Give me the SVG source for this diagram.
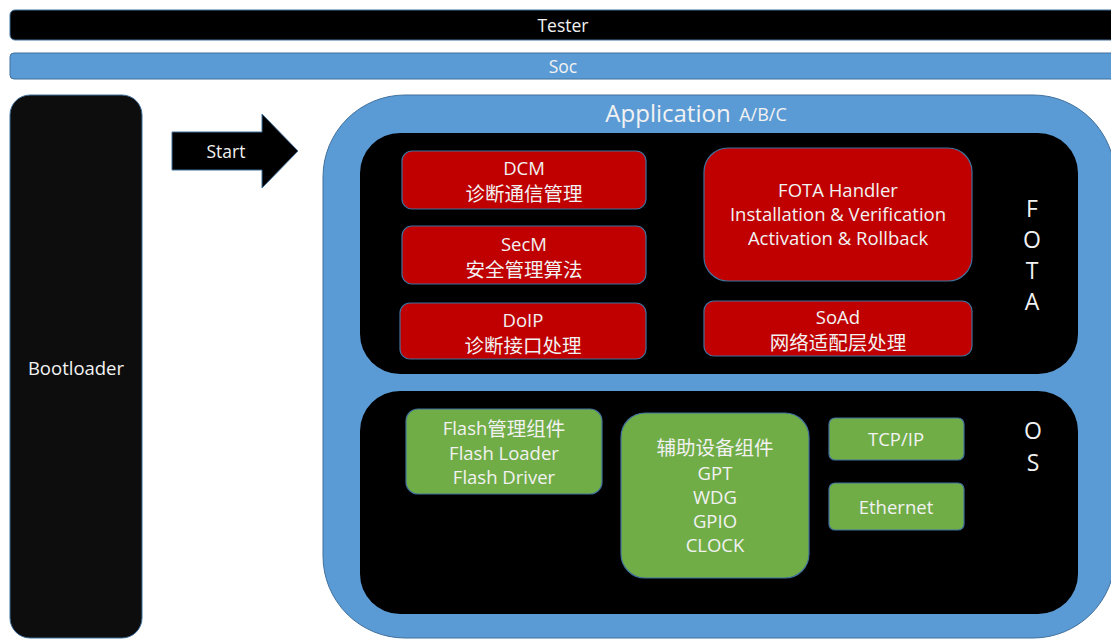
<svg xmlns="http://www.w3.org/2000/svg" width="1111" height="639" viewBox="0 0 1111 639">
<style>
text{font-family:"Open Sans","Noto Sans","Noto Sans CJK SC",sans-serif;fill:#f2f2f2;text-anchor:middle;dominant-baseline:central}
.t18{font-size:18.5px}
.t17{font-size:17.5px}
.cjk{font-size:19.5px;font-family:"Noto Sans CJK SC",sans-serif}
.red{fill:#c00000;stroke:#41719c;stroke-width:1.2}
.grn{fill:#70ad47;stroke:#41719c;stroke-width:1.2}
.blk{fill:#000;stroke:#41719c;stroke-width:1}
.blue{fill:#5b9bd5;stroke:#41719c;stroke-width:1}
</style>
<rect width="1111" height="639" fill="#fff"/>
<g id="tester">
<rect class="blk" x="10" y="10" width="1108" height="30" rx="5"/>
<text class="t17" x="563" y="25">Tester</text>
</g>
<g id="soc">
<rect class="blue" x="10" y="53" width="1108" height="26" rx="4"/>
<text class="t17" x="563" y="66">Soc</text>
</g>
<g id="bootloader">
<rect x="10" y="95" width="132" height="543" rx="20" fill="#0d0d0d" stroke="#41719c" stroke-width="1"/>
<text class="t18" x="76" y="367">Bootloader</text>
</g>
<g id="start">
<polygon points="172,132 262,132 262,114 298,151 262,188 262,170 172,170" fill="#000" stroke="#41719c" stroke-width="1"/>
<text class="t17" x="226" y="151">Start</text>
</g>
<g id="application">
<rect class="blue" x="323" y="95" width="792" height="543" rx="82"/>
<text x="668" y="112" style="font-size:24px">Application</text>
<text x="763" y="114" style="font-size:18px">A/B/C</text>
</g>
<g id="fota">
<rect x="360" y="133" width="718" height="241" rx="40" fill="#000"/>
<text x="1032" y="208" style="font-size:23px">F</text>
<text x="1032" y="239" style="font-size:23px">O</text>
<text x="1032" y="270" style="font-size:23px">T</text>
<text x="1032" y="301" style="font-size:23px">A</text>
</g>
<g id="os">
<rect x="360" y="391" width="718" height="223" rx="40" fill="#000"/>
<text x="1033" y="430" style="font-size:23px">O</text>
<text x="1033" y="462" style="font-size:23px">S</text>
</g>
<g id="dcm">
<rect class="red" x="402" y="151" width="244" height="58" rx="10"/>
<text class="t18" x="524" y="167">DCM</text>
<text class="cjk" x="524" y="192">诊断通信管理</text>
</g>
<g id="secm">
<rect class="red" x="402" y="226" width="244" height="58" rx="10"/>
<text class="t18" x="524" y="243">SecM</text>
<text class="cjk" x="524" y="268">安全管理算法</text>
</g>
<g id="doip">
<rect class="red" x="400" y="303" width="246" height="56" rx="10"/>
<text class="t18" x="523" y="319">DoIP</text>
<text class="cjk" x="523" y="344">诊断接口处理</text>
</g>
<g id="fota-handler">
<rect class="red" x="704" y="148" width="268" height="133" rx="24"/>
<text class="t18" x="838" y="189">FOTA Handler</text>
<text class="t18" x="838" y="213">Installation &amp; Verification</text>
<text class="t18" x="838" y="237">Activation &amp; Rollback</text>
</g>
<g id="soad">
<rect class="red" x="704" y="301" width="268" height="55" rx="10"/>
<text class="t18" x="838" y="316">SoAd</text>
<text class="cjk" x="838" y="341">网络适配层处理</text>
</g>
<g id="flash">
<rect class="grn" x="406" y="409" width="196" height="85" rx="12"/>
<text class="t18" x="504" y="427">Flash<tspan class="cjk">管理组件</tspan></text>
<text class="t18" x="504" y="452">Flash Loader</text>
<text class="t18" x="504" y="476">Flash Driver</text>
</g>
<g id="aux">
<rect class="grn" x="621" y="413" width="188" height="165" rx="24"/>
<text class="cjk" x="715" y="446">辅助设备组件</text>
<text class="t18" x="715" y="472">GPT</text>
<text class="t18" x="715" y="496">WDG</text>
<text class="t18" x="715" y="520">GPIO</text>
<text class="t18" x="715" y="544">CLOCK</text>
</g>
<g id="tcpip">
<rect class="grn" x="829" y="418" width="135" height="42" rx="6"/>
<text class="t18" x="896" y="438">TCP/IP</text>
</g>
<g id="ethernet">
<rect class="grn" x="829" y="483" width="135" height="47" rx="6"/>
<text class="t18" x="896" y="506">Ethernet</text>
</g>
<g id="connectors"></g>
</svg>
